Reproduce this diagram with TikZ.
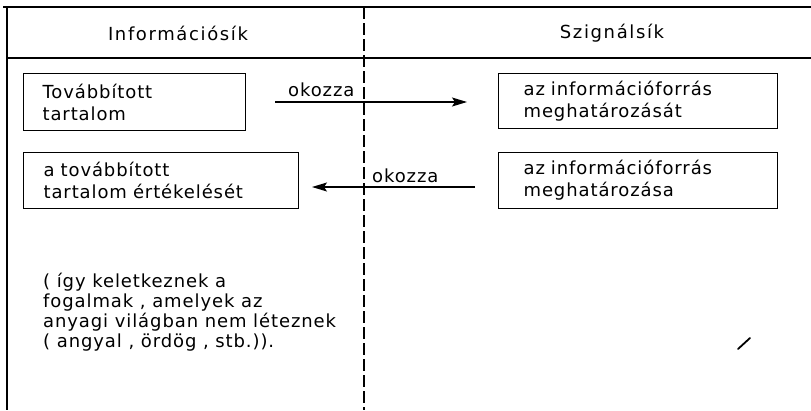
\documentclass[tikz,border=0pt]{standalone}
\usepackage{fontspec}
\setmainfont{DejaVu Sans}
\newfontfamily\lett[LetterSpace=5]{DejaVu Sans}
\newfontfamily\letth[LetterSpace=9]{DejaVu Sans}
\usetikzlibrary{arrows.meta}
\begin{document}
\begin{tikzpicture}[x=1pt,y=-1pt,
  frame/.style={line width=1.6pt},
  divider/.style={line width=1.2pt, dash pattern=on 12pt off 4pt},
  box/.style={draw, line width=1.2pt, anchor=north west, inner ysep=0pt, align=left,
    font=\lett\fontsize{18}{22}\selectfont},
  lbl/.style={font=\lett\fontsize{18}{22}\selectfont, inner sep=0pt},
  head/.style={font=\letth\fontsize{18}{22}\selectfont, inner sep=0pt},
  para/.style={font=\lett\fontsize{18}{20}\selectfont, inner sep=0pt, align=left, anchor=north west},
  arr/.style={line width=1.2pt, -{Stealth[length=15pt,width=9pt,inset=3pt]}}]
\useasboundingbox (0,0) rectangle (811,410);
% frame
\coordinate (tl) at (3,7);
\coordinate (tr) at (811,7);
\coordinate (lt) at (7,7);
\coordinate (lb) at (7,410);
\coordinate (hl) at (7,58);
\coordinate (hr) at (811,58);
\coordinate (dt) at (364,7);
\coordinate (db) at (364,410);
\draw[frame] (tl) -- (tr);
\draw[frame] (lt) -- (lb);
\draw[frame] (hl) -- (hr);
\draw[divider] (dt) -- (db);
% headers
\node[head] (h1) at (178,33) {Információsík};
\node[head] (h2) at (612,33) {Szignálsík};
% boxes
\node[box, text width=184pt, inner xsep=19pt, minimum height=57pt] (b1) at (23,73) {Továbbított\\tartalom};
\node[box, text width=229pt, inner xsep=25pt, minimum height=55pt] (b2) at (498,73) {az információforrás\\meghatározását};
\node[box, text width=235pt, inner xsep=20pt, minimum height=56pt] (b3) at (23,152) {a továbbított\\tartalom értékelését};
\node[box, text width=229pt, inner xsep=25pt, minimum height=56pt] (b4) at (498,152) {az információforrás\\meghatározása};
% arrows
\coordinate (a1s) at (275,102);
\coordinate (a1e) at (467,102);
\draw[arr] (a1s) -- (a1e);
\node[lbl, anchor=base west] (o1) at (288,96) {okozza};
\coordinate (a2s) at (475,187);
\coordinate (a2e) at (312,187);
\draw[arr] (a2s) -- (a2e);
\node[lbl, anchor=base west] (o2) at (372,182) {okozza};
% paragraph
\node[para] (p) at (43,273) {( így keletkeznek a\\fogalmak , amelyek az\\anyagi világban nem léteznek\\( angyal , ördög , stb.)).};
% stray mark
\coordinate (m1) at (738,349);
\coordinate (m2) at (750,338);
\draw[line width=1.8pt, line cap=round] (m1) -- (m2);
\end{tikzpicture}
\end{document}
